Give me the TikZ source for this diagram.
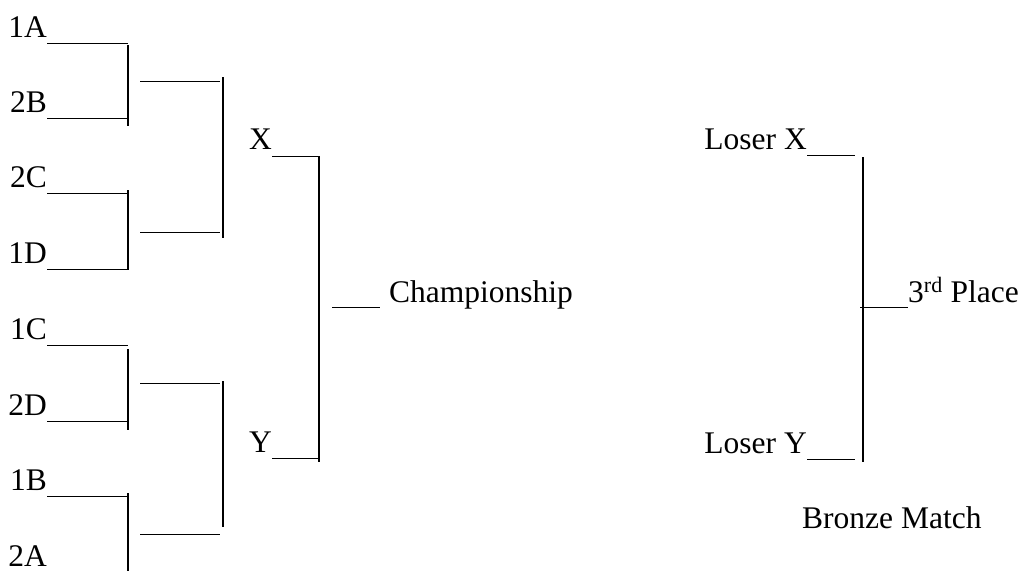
\documentclass[tikz,border=0pt]{standalone}
\usepackage{fontspec}
\setmainfont{Liberation Serif}
\begin{document}
\begin{tikzpicture}[x=1pt,y=-1pt,
  lbl/.style={inner sep=0pt, font=\fontsize{31.5}{36}\selectfont},
  hline/.style={line width=1pt},
  vline/.style={line width=1.6pt}]
\useasboundingbox (0,0) rectangle (1024,571);
% first round seeds
\foreach \t/\y in {1A/43,2B/118,2C/193,1D/269,1C/345,2D/421,1B/496}{
  \node[lbl, anchor=base east] (s\t) at (47,\y-6) {\t};
  \coordinate (e\t) at (128,\y);
  \draw[hline] (s\t.base east |- e\t) -- (e\t);
}
\node[lbl, anchor=base east] (s2A) at (47,566) {2A};
% first round bars
\coordinate (b1t) at (128,45);  \coordinate (b1b) at (128,126);
\coordinate (b2t) at (128,190); \coordinate (b2b) at (128,270);
\coordinate (b3t) at (128,349); \coordinate (b3b) at (128,430);
\coordinate (b4t) at (128,493); \coordinate (b4b) at (128,571);
\draw[vline] (b1t) -- (b1b);
\draw[vline] (b2t) -- (b2b);
\draw[vline] (b3t) -- (b3b);
\draw[vline] (b4t) -- (b4b);
% second round lines
\foreach \i/\y in {1/81,2/232,3/383,4/534}{
  \coordinate (r\i s) at (140,\y);
  \coordinate (r\i e) at (220,\y);
  \draw[hline] (r\i s) -- (r\i e);
}
\coordinate (c1t) at (223,77);  \coordinate (c1b) at (223,238);
\coordinate (c2t) at (223,381); \coordinate (c2b) at (223,527);
\draw[vline] (c1t) -- (c1b);
\draw[vline] (c2t) -- (c2b);
% semifinal
\node[lbl, anchor=base east] (X) at (272,149) {X};
\node[lbl, anchor=base east] (Y) at (272,452) {Y};
\coordinate (xe) at (319,156);
\coordinate (ye) at (319,458);
\draw[hline] (X.base east |- xe) -- (xe);
\draw[hline] (Y.base east |- ye) -- (ye);
\coordinate (ft) at (319,156); \coordinate (fb) at (319,462);
\draw[vline] (ft) -- (fb);
\coordinate (cs) at (332,307);
\node[lbl, anchor=base west] (champ) at (389,302) {Championship};
\draw[hline] (cs) -- (cs -| 380,0);
% bronze
\node[lbl, anchor=base east] (LX) at (807,149) {Loser X};
\node[lbl, anchor=base east] (LY) at (807,453) {Loser Y};
\coordinate (lxe) at (855,155);
\coordinate (lye) at (855,459);
\draw[hline] (LX.base east |- lxe) -- (lxe);
\draw[hline] (LY.base east |- lye) -- (lye);
\coordinate (bt) at (863,157); \coordinate (bb) at (863,462);
\draw[vline] (bt) -- (bb);
\node[lbl, anchor=base west] (third) at (908,302) {3\textsuperscript{rd} Place};
\coordinate (ts) at (860,307);
\draw[hline] (ts) -- (ts -| third.base west);
\node[lbl, anchor=base west] (bronze) at (802,528) {Bronze Match};
\end{tikzpicture}
\end{document}
